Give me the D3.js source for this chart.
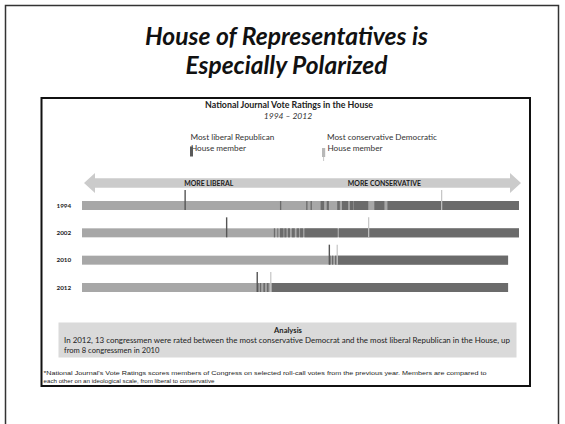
<!DOCTYPE html>
<html><head><meta charset="utf-8">
<script src="https://cdn.jsdelivr.net/npm/d3@7"></script>
<style>body{margin:0;background:#fff} svg{display:block}</style>
</head><body><script>
// ---------- data ----------
const years = ["1994", "2002", "2010", "2012"];
// position on the liberal (0) -> conservative (100) rank scale
const barEnds = [100, 100, 97.5, 97.5];
const mostLiberalRep = [23.6, 33.1, 56.6, 40.1];
const mostConservativeDem = [82.3, 65.6, 58.4, 43.2];
const repSegments1994 = [[45.3,45.6],[51.3,51.6],[52.3,52.6],[54.6,55.4],[56.0,56.5],[58.4,59.0],[59.5,60.9],[61.3,62.1],[62.2,65.5],[66.9,69.2],[69.9,100]];
const repSegments2002 = [[43.9,44.2],[44.7,44.9],[45.3,46.1],[46.3,46.8],[47.1,47.6],[48.0,48.7],[49.1,49.7],[49.9,50.6],[50.9,58.5],[58.8,100]];
const repSegments2010 = [[56.6,56.9],[57.2,57.5],[57.9,58.3],[58.5,97.5]];
const repSegments2012 = [[40.1,40.4],[40.7,41.0],[41.5,41.9],[42.3,42.7],[43.4,97.5]];
const repSegments = [repSegments1994, repSegments2002, repSegments2010, repSegments2012];
const scaleLabels = ["MORE LIBERAL", "MORE CONSERVATIVE"];
const scaleLabelPos = [29, 69.2];

const W = 565, H = 424;
const svg = d3.select("body").append("svg").attr("width", W).attr("height", H);
const CAL = "Lato, 'Open Sans', sans-serif";

// slide border
svg.append("rect").attr("x", 5.5).attr("y", 5.5).attr("width", 553).attr("height", 425)
  .attr("fill", "none").attr("stroke", "#333").attr("stroke-width", 1.5);

// slide title
const title = svg.append("g").attr("font-family", CAL).attr("font-weight", "bold")
  .attr("font-style", "italic").attr("font-size", 24).attr("fill", "#111").attr("text-anchor", "middle");
title.append("text").attr("x", 286.5).attr("y", 45).attr("textLength", 283).attr("lengthAdjust", "spacingAndGlyphs").text("House of Representatives is");
title.append("text").attr("x", 286.5).attr("y", 74).attr("textLength", 202).attr("lengthAdjust", "spacingAndGlyphs").text("Especially Polarized");

// inner figure box
svg.append("rect").attr("x", 41.5).attr("y", 98).attr("width", 488.5).attr("height", 288)
  .attr("fill", "#fff").attr("stroke", "#111").attr("stroke-width", 2);

// chart titles
svg.append("text").attr("x", 289).attr("y", 107.5).attr("text-anchor", "middle")
  .attr("font-family", CAL).attr("font-weight", "bold").attr("font-size", 8.5).attr("fill", "#222")
  .attr("textLength", 168).attr("lengthAdjust", "spacingAndGlyphs")
  .text("National Journal Vote Ratings in the House");
svg.append("text").attr("x", 288).attr("y", 118.5).attr("text-anchor", "middle")
  .attr("font-family", CAL).attr("font-style", "italic").attr("font-size", 8.5).attr("fill", "#333")
  .text("1994 – 2012");

// scales
const x = d3.scaleLinear().domain([0, 100]).range([82, 519]);
const y = d3.scalePoint().domain(years).range([205.5, 287.5]);
const barH = 9;
const LIGHT = "#a7a7a7", DARK = "#6b6b6b";

// legend
const leg = svg.append("g").attr("font-family", CAL).attr("font-size", 8.2).attr("fill", "#333");
leg.append("text").attr("x", 190.5).attr("y", 140).text("Most liberal Republican");
leg.append("text").attr("x", 191).attr("y", 150.5).text("House member");
leg.append("rect").attr("x", 190).attr("y", 146.5).attr("width", 3).attr("height", 10).attr("fill", "#5a5a5a");
leg.append("text").attr("x", 327).attr("y", 140).text("Most conservative Democratic");
leg.append("text").attr("x", 327.5).attr("y", 150.5).text("House member");
leg.append("rect").attr("x", 322).attr("y", 148).attr("width", 3.2).attr("height", 9).attr("fill", "#b8b8b8");
leg.append("line").attr("x1", 323.6).attr("x2", 323.6).attr("y1", 157).attr("y2", 161).attr("stroke", "#c8c8c8").attr("stroke-width", 1);

// double-headed arrow
const ax0 = x(0) + 2, ax1 = x(100) + 2, ay = 183, sh = 4.8, hh = 10, hl = 11;
const p = d3.path();
p.moveTo(ax0, ay); p.lineTo(ax0 + hl, ay - hh); p.lineTo(ax0 + hl, ay - sh);
p.lineTo(ax1 - hl, ay - sh); p.lineTo(ax1 - hl, ay - hh); p.lineTo(ax1, ay);
p.lineTo(ax1 - hl, ay + hh); p.lineTo(ax1 - hl, ay + sh); p.lineTo(ax0 + hl, ay + sh);
p.lineTo(ax0 + hl, ay + hh); p.closePath();
svg.append("path").attr("d", p.toString()).attr("fill", "#cbcbcb");
svg.selectAll("text.sl").data(scaleLabels).join("text").attr("class", "sl")
  .attr("x", (d, i) => x(scaleLabelPos[i])).attr("y", 185.5).attr("text-anchor", "middle")
  .attr("font-family", CAL).attr("font-weight", "bold").attr("font-size", 6.9).attr("fill", "#1a1a1a")
  .text(d => d);

// rows
const rows = svg.selectAll("g.row").data(years).join("g").attr("class", "row");
rows.append("text").attr("x", 56.5).attr("y", d => y(d) + 2).attr("font-family", CAL)
  .attr("font-weight", "bold").attr("font-size", 6.3).attr("fill", "#222").text(d => d);
rows.append("rect").attr("x", x(0)).attr("y", d => y(d) - barH / 2)
  .attr("width", (d, i) => x(barEnds[i]) - x(0)).attr("height", barH).attr("fill", LIGHT);
rows.each(function (d, i) {
  d3.select(this).selectAll("rect.rep").data(repSegments[i]).join("rect").attr("class", "rep")
    .attr("x", s => x(s[0])).attr("y", y(d) - barH / 2)
    .attr("width", s => Math.max(0.8, x(s[1]) - x(s[0]))).attr("height", barH).attr("fill", DARK);
});
rows.append("line").attr("x1", (d, i) => x(mostLiberalRep[i])).attr("x2", (d, i) => x(mostLiberalRep[i]))
  .attr("y1", d => y(d) - barH / 2 - 11).attr("y2", d => y(d) + barH / 2)
  .attr("stroke", "#555").attr("stroke-width", 1.4);
rows.append("line").attr("x1", (d, i) => x(mostConservativeDem[i])).attr("x2", (d, i) => x(mostConservativeDem[i]))
  .attr("y1", d => y(d) - barH / 2 - 11).attr("y2", d => y(d) + barH / 2)
  .attr("stroke", "#c4c4c4").attr("stroke-width", 1.2);

// analysis box
svg.append("rect").attr("x", 58.5).attr("y", 322.5).attr("width", 458).attr("height", 35).attr("fill", "#dadada");
const an = svg.append("g").attr("font-family", CAL).attr("font-size", 7.6).attr("fill", "#222");
an.append("text").attr("x", 288).attr("y", 332.5).attr("text-anchor", "middle").attr("font-weight", "bold").text("Analysis");
an.append("text").attr("x", 64).attr("y", 343).attr("textLength", 446).attr("lengthAdjust", "spacingAndGlyphs")
  .text("In 2012, 13 congressmen were rated between the most conservative Democrat and the most liberal Republican in the House, up");
an.append("text").attr("x", 64).attr("y", 353).text("from 8 congressmen in 2010");

// footnote
const fn = svg.append("g").attr("font-family", "'Liberation Sans', Arial, sans-serif").attr("font-size", 6.2).attr("fill", "#1a1a1a");
fn.append("text").attr("x", 43.5).attr("y", 375).attr("textLength", 443).attr("lengthAdjust", "spacingAndGlyphs")
  .text("*National Journal's Vote Ratings scores members of Congress on selected roll-call votes from the previous year.  Members are compared to");
fn.append("text").attr("x", 43.5).attr("y", 383).text("each other on an ideological scale, from liberal to conservative");
</script></body></html>
